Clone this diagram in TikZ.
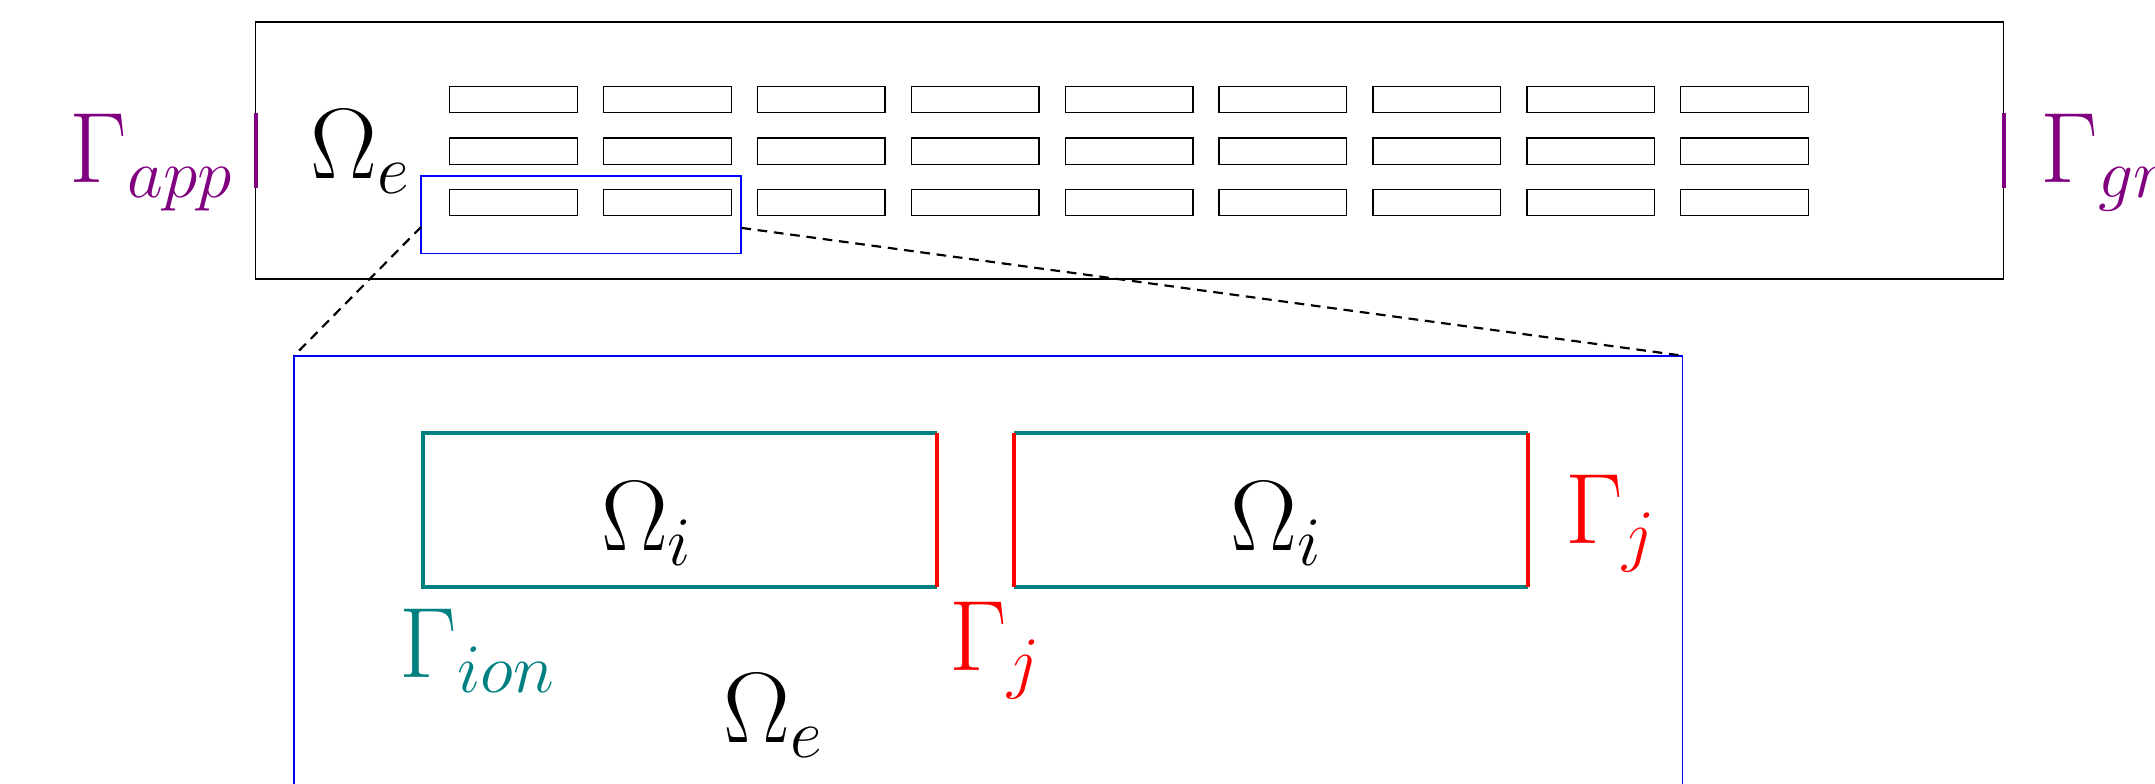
\documentclass[tikz,border=0pt]{standalone}
\usepackage{xcolor}
\begin{document}
\begin{tikzpicture}[x=0.1mm,y=-0.1mm,
    lbl/.style={inner sep=0pt,anchor=base west,font=\huge},
    cell/.style={draw=black,line width=0.25pt},
    ion/.style={teal,line width=0.85pt},
    junc/.style={red,line width=0.85pt},
    bnd/.style={violet,line width=0.85pt}]
      \useasboundingbox (0,0) rectangle (1568,570);
      \clip (0,0) rectangle (1568,570);
      \def\w{93};
      \def\h{19};
      % tissue with the grid of cells
      \draw[black,line width=0.25pt] (186,16) rectangle (1458,203);
      \foreach \c in {0,...,8} {
          \foreach \r in {0,1,2} {
              \pgfmathsetmacro{\x}{327+112*\c};
              \pgfmathsetmacro{\y}{63+37.4*\r};
              \draw[cell] (\x,\y) rectangle ++(\w,\h);
            }
        }
      \draw[bnd] (186,82) -- (186,137);
      \draw[bnd] (1458,82) -- (1458,137);
      \node (app) at (50,133) [lbl,violet] {$\Gamma_{app}$};
      \node (gr) at (1484,133) [lbl,violet] {$\Gamma_{gr}$};
      \node (ext) at (225.5,130) [lbl] {$\Omega_e$};
      % zoomed window
      \coordinate (zl) at (306.5,165);
      \coordinate (zr) at (539.4,165.8);
      \coordinate (bl) at (214,258.8);
      \coordinate (br) at (1224.3,258.8);
      \draw[blue,line width=0.35pt] (306.5,128) rectangle (539.4,184.5);
      \draw[blue,line width=0.35pt] (214,620) -- (bl) -- (br) -- (1224.3,620);
      \draw[dashed,dash pattern=on 2pt off 1.4pt,line width=0.45pt] (zl) -- (bl);
      \draw[dashed,dash pattern=on 2pt off 1.4pt,line width=0.45pt] (zr) -- (br);
      % two cells
      \draw[ion] (682,315) -- (308,315) -- (308,427) -- (682,427);
      \draw[junc] (682,315) -- (682,427);
      \draw[ion] (738,315) -- (1112,315);
      \draw[ion] (738,427) -- (1112,427);
      \draw[junc] (738,315) -- (738,427);
      \draw[junc] (1112,315) -- (1112,427);
      \node (cella) at (436.6,400.3) [lbl] {$\Omega_i$};
      \node (cellb) at (894.6,400.3) [lbl] {$\Omega_i$};
      \node (ion) at (290,493) [lbl,teal] {$\Gamma_{ion}$};
      \node (gja) at (690.5,488) [lbl,red] {$\Gamma_j$};
      \node (gjb) at (1138,395.4) [lbl,red] {$\Gamma_j$};
      \node (extz) at (526,539.9) [lbl] {$\Omega_e$};
    \end{tikzpicture}
\end{document}
